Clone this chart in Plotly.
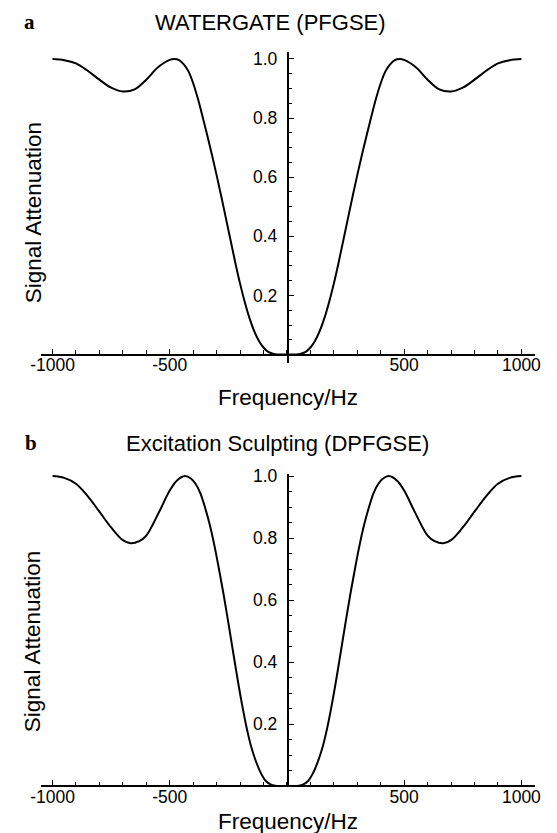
import plotly.graph_objects as go

# ---- data ----
freq_a = [-1000, -950, -900, -850, -800, -750, -700, -650, -600, -550, -500, -480, -460, -440, -420, -400,
          -380, -360, -340, -320, -300, -280, -260, -240, -220, -200, -180, -160, -140, -120, -100, -80,
          -60, -40, -20, 0,
          20, 40, 60, 80, 100, 120, 140, 160, 180, 200, 220, 240, 260, 280, 300, 320, 340, 360, 380,
          400, 420, 440, 460, 480, 500, 550, 600, 650, 700, 750, 800, 850, 900, 950, 1000]
atten_a = [1.000, 0.996, 0.985, 0.960, 0.930, 0.903, 0.890, 0.897, 0.930, 0.972, 0.997, 1.000, 0.996, 0.982, 0.958, 0.918,
           0.866, 0.805, 0.742, 0.676, 0.607, 0.535, 0.460, 0.385, 0.310, 0.240, 0.178, 0.124, 0.080, 0.047, 0.024, 0.009,
           0.003, 0.0005, 0.000, 0.000,
           0.000, 0.0005, 0.003, 0.009, 0.024, 0.047, 0.080, 0.124, 0.178, 0.240, 0.310, 0.385, 0.460, 0.535, 0.607,
           0.676, 0.742, 0.805, 0.866, 0.918, 0.958, 0.982, 0.996, 1.000, 0.997, 0.972, 0.930, 0.897, 0.890, 0.903,
           0.930, 0.960, 0.985, 0.996, 1.000]

freq_b = [-1000, -950, -900, -850, -800, -750, -700, -667, -630, -600, -550, -500, -470, -435, -410, -390,
          -370, -350, -330, -310, -290, -270, -250, -230, -210, -190, -170, -150, -130, -110, -90, -70,
          -50, -25, 0,
          25, 50, 70, 90, 110, 130, 150, 170, 190, 210, 230, 250, 270, 290, 310, 330, 350, 370, 390,
          410, 435, 470, 500, 550, 600, 630, 667, 700, 750, 800, 850, 900, 950, 1000]
atten_b = [1.000, 0.994, 0.975, 0.935, 0.885, 0.834, 0.793, 0.783, 0.790, 0.808, 0.877, 0.953, 0.985, 1.000, 0.992, 0.975,
           0.946, 0.900, 0.845, 0.778, 0.700, 0.617, 0.527, 0.434, 0.342, 0.257, 0.181, 0.120, 0.075, 0.040, 0.016, 0.005,
           0.001, 0.000, 0.000,
           0.000, 0.001, 0.005, 0.016, 0.040, 0.075, 0.120, 0.181, 0.257, 0.342, 0.434, 0.527, 0.617, 0.700, 0.778,
           0.845, 0.900, 0.946, 0.975, 0.992, 1.000, 0.985, 0.953, 0.877, 0.808, 0.790, 0.783, 0.793, 0.834, 0.885,
           0.935, 0.975, 0.994, 1.000]

x_tickvals = [-1000, -500, 500, 1000]
x_ticktext = ["-1000", "-500", "500", "1000"]
y_tickvals = [0.2, 0.4, 0.6, 0.8, 1.0]
y_ticktext = ["0.2", "0.4", "0.6", "0.8", "1.0"]
titles = ["WATERGATE (PFGSE)", "Excitation Sculpting (DPFGSE)"]
panel_letters = ["a", "b"]
x_title = "Frequency/Hz"
y_title = "Signal Attenuation"

W, H = 557, 833
FONT = "Liberation Sans, Arial, Helvetica, sans-serif"

def px_x(p):
    return p / W

def px_y(p):
    return 1 - p / H

fig = go.Figure()
fig.add_trace(go.Scatter(x=freq_a, y=atten_a, mode="lines", xaxis="x", yaxis="y",
                         line=dict(color="black", width=2, shape="spline", smoothing=1.0),
                         showlegend=False, hoverinfo="skip"))
fig.add_trace(go.Scatter(x=freq_b, y=atten_b, mode="lines", xaxis="x2", yaxis="y2",
                         line=dict(color="black", width=2, shape="spline", smoothing=1.0),
                         showlegend=False, hoverinfo="skip"))

x_dom = [px_x(31.7), px_x(540.5)]
yaxis_pos = px_x(285.8)

def xax(pos):
    return dict(domain=x_dom, range=[-1050, 1058], anchor="free", position=pos,
                showline=True, linecolor="black", linewidth=1.7,
                showgrid=False, zeroline=False,
                tickmode="array", tickvals=x_tickvals, ticktext=x_ticktext,
                ticks="inside", ticklen=5, tickwidth=1.3, tickcolor="black",
                ticklabelstandoff=-5,
                minor=dict(tickmode="linear", tick0=0, dtick=100, ticks="inside",
                           ticklen=3.5, tickwidth=1.2, tickcolor="black", showgrid=False),
                tickfont=dict(family=FONT, size=17.5, color="black"),
                fixedrange=True)

def yax(dom, rng):
    return dict(domain=dom, range=rng, anchor="free", position=yaxis_pos, side="left",
                showline=True, linecolor="black", linewidth=1.7,
                showgrid=False, zeroline=False,
                tickmode="array", tickvals=y_tickvals, ticktext=y_ticktext,
                ticks="inside", ticklen=6, tickwidth=1.3, tickcolor="black",
                ticklabelstandoff=6,
                minor=dict(tickmode="linear", tick0=0, dtick=0.05, ticks="inside",
                           ticklen=4, tickwidth=1.2, tickcolor="black", showgrid=False),
                tickfont=dict(family=FONT, size=17.5, color="black"),
                fixedrange=True)

fig.update_layout(
    width=W, height=H,
    margin=dict(l=0, r=0, t=0, b=0),
    paper_bgcolor="white", plot_bgcolor="white",
    xaxis=xax(px_y(350)),
    yaxis=yax([px_y(358), px_y(44)], [-0.027, 1.025]),
    xaxis2=xax(px_y(785.7)),
    yaxis2=yax([px_y(786.5), px_y(471)], [-0.003, 1.005]),
)

ann = []
# panel titles
for txt, xx, yy in zip(titles, [268, 275], [15, 440]):
    ann.append(dict(text=txt, x=px_x(xx), y=px_y(yy), xref="paper", yref="paper",
                    showarrow=False, xanchor="center", yanchor="middle",
                    font=dict(family=FONT, size=22, color="black")))
for txt, xx, yy in zip(panel_letters, [20, 22], [14, 439]):
    ann.append(dict(text="<b>" + txt + "</b>", x=px_x(xx), y=px_y(yy), xref="paper", yref="paper",
                    showarrow=False, xanchor="center", yanchor="middle",
                    font=dict(family="Liberation Serif, Times New Roman, serif", size=21, color="black")))
# axis titles
for yy in [393, 821]:
    ann.append(dict(text=x_title, x=px_x(286), y=px_y(yy), xref="paper", yref="paper",
                    showarrow=False, xanchor="center", yanchor="middle",
                    font=dict(family=FONT, size=22.5, color="black")))
for yy in [207, 640]:
    ann.append(dict(text=y_title, x=px_x(24), y=px_y(yy), xref="paper", yref="paper",
                    showarrow=False, xanchor="center", yanchor="middle", textangle=-90,
                    font=dict(family=FONT, size=22.5, color="black")))
fig.update_layout(annotations=ann)

fig.write_html("out.html")
